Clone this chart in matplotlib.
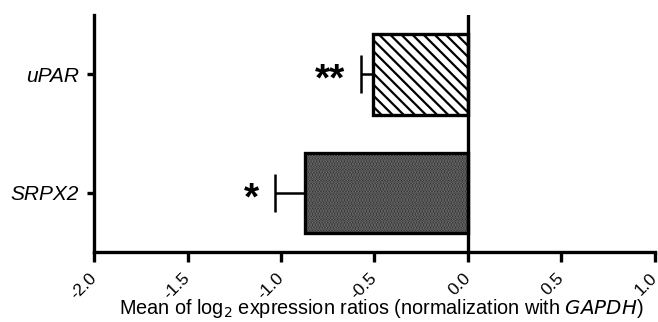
import matplotlib
matplotlib.use("Agg")
import matplotlib.pyplot as plt

plt.rcParams["font.family"] = ["Liberation Sans", "DejaVu Sans"]
plt.rcParams["hatch.linewidth"] = 1.6

genes = ["SRPX2", "uPAR"]
means = [-0.87, -0.51]
errors = [0.16, 0.06]
stars = ["*", "**"]
hatches = ["......", "\\\\\\"]
faces = ["#1e1e1e", "white"]
hatch_colors = ["#7c7c7c", "black"]
xticks = [-2.0, -1.5, -1.0, -0.5, 0.0, 0.5, 1.0]

fig = plt.figure(figsize=(6.58, 3.22), dpi=100)
ax = fig.add_axes([0.143, 0.217, 0.852, 0.736])

ypos = list(range(len(genes)))
for y, m, e, h, fc, hc, s in zip(ypos, means, errors, hatches, faces, hatch_colors, stars):
    # relleno + trama
    ax.barh(y, m, height=0.68, color=fc, edgecolor=hc, hatch=h, linewidth=0, zorder=2)
    # contorno
    ax.barh(y, m, height=0.68, facecolor="none", edgecolor="black", linewidth=2.4, zorder=3)
    ax.errorbar(m, y, xerr=[[e], [0]], fmt="none", ecolor="black",
                elinewidth=1.8, capsize=14, capthick=1.8, zorder=1)
    ax.text(m - e - 0.085, y - 0.055, s, ha="right", va="center", fontsize=28,
            fontweight="bold")

ax.axvline(0, color="black", linewidth=2.4, zorder=4)

ax.set_xlim(-2.0, 1.0)
ax.set_ylim(-0.5, 1.5)
ax.set_xticks(xticks)
ax.set_xticklabels([f"{v:.1f}" for v in xticks], fontsize=12.5)
ax.set_yticks(ypos)
ax.set_yticklabels(genes, fontsize=15, fontstyle="italic")

for side in ("top", "right"):
    ax.spines[side].set_visible(False)
for side in ("left", "bottom"):
    ax.spines[side].set_linewidth(2.4)
ax.tick_params(axis="x", length=7, width=2.4, pad=10)
ax.tick_params(axis="y", length=5, width=2.4, pad=6)
for lbl in ax.get_xticklabels():
    lbl.set_rotation(45)
    lbl.set_ha("right")
    lbl.set_va("center")
    lbl.set_rotation_mode("anchor")

ax.set_xlabel(r"Mean of log$_2$ expression ratios (normalization with $\it{GAPDH}$)",
              fontsize=14.3, labelpad=-4)
ax.xaxis.label.set_x(0.513)

fig.savefig("out.png", dpi=100)
